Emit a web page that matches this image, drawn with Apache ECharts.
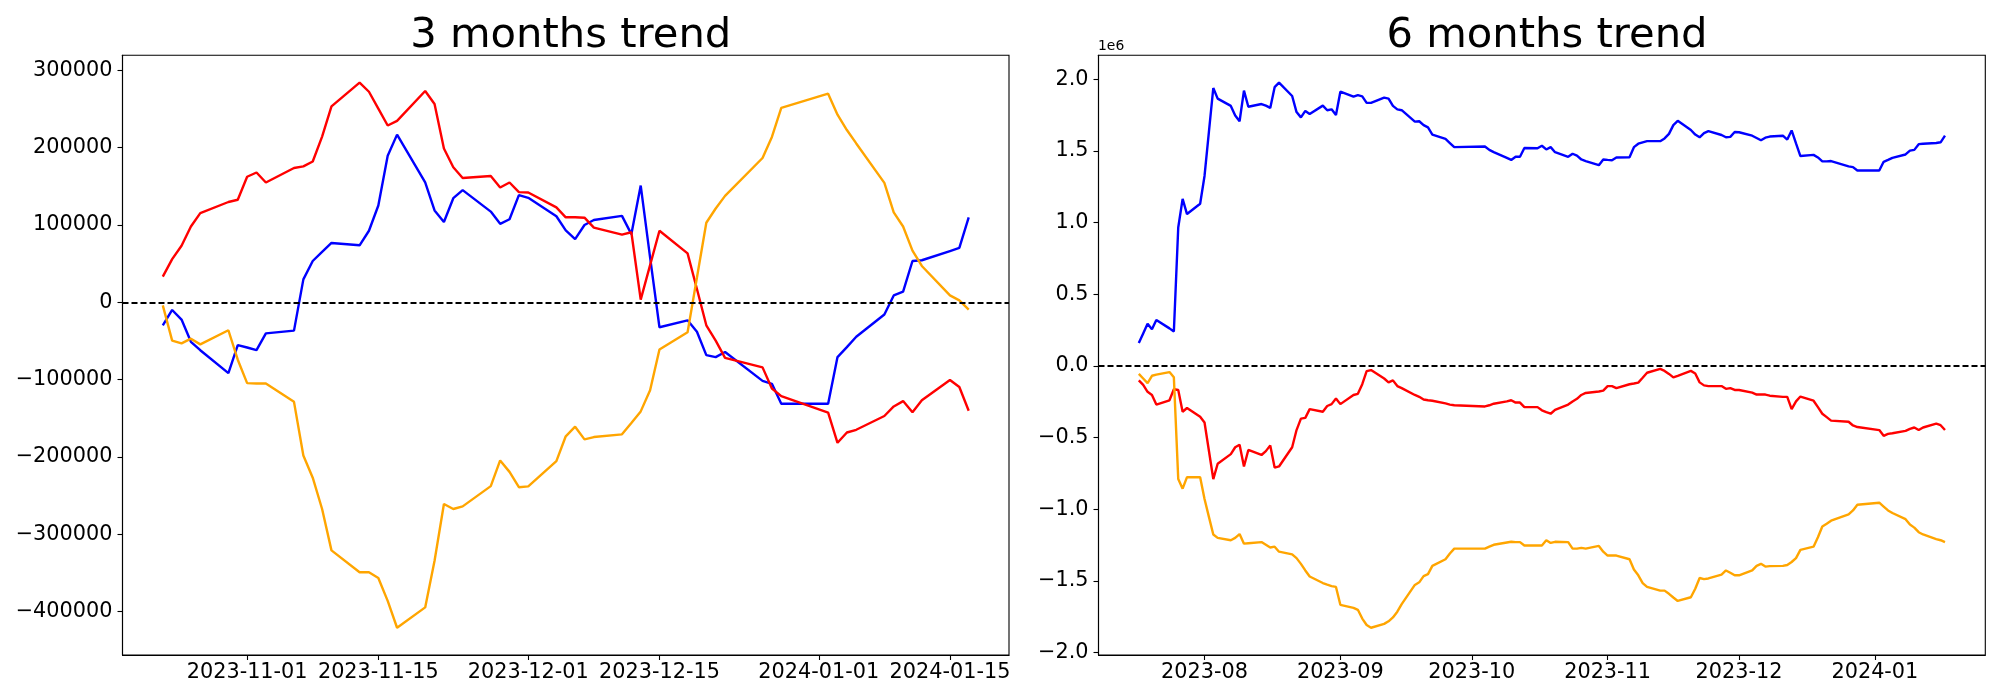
<!DOCTYPE html>
<html>
<head>
<meta charset="utf-8">
<script src="https://cdn.jsdelivr.net/npm/echarts@6/dist/echarts.min.js"></script>
<style>
html,body{margin:0;padding:0;background:#fff;}
#chart{width:2000px;height:700px;}
</style>
</head>
<body>
<div id="chart"></div>
<script>
// ---------- 3 months panel ----------
const dates3 = [
  '2023-10-23','2023-10-24','2023-10-25','2023-10-26','2023-10-27','2023-10-30','2023-10-31',
  '2023-11-01','2023-11-02','2023-11-03','2023-11-06','2023-11-07','2023-11-08','2023-11-09','2023-11-10',
  '2023-11-13','2023-11-14','2023-11-15','2023-11-16','2023-11-17','2023-11-20','2023-11-21','2023-11-22',
  '2023-11-23','2023-11-24','2023-11-27','2023-11-28','2023-11-29','2023-11-30',
  '2023-12-01','2023-12-04','2023-12-05','2023-12-06','2023-12-07','2023-12-08','2023-12-11','2023-12-12',
  '2023-12-13','2023-12-14','2023-12-15','2023-12-18','2023-12-19','2023-12-20','2023-12-21','2023-12-22',
  '2023-12-26','2023-12-27','2023-12-28',
  '2024-01-02','2024-01-03','2024-01-04','2024-01-05','2024-01-08','2024-01-09','2024-01-10','2024-01-11',
  '2024-01-12','2024-01-15','2024-01-16','2024-01-17'
];
const blue3 = [
  -29700,-9900,-22300,-51000,-61900,-91600,-55400,
  -58400,-61900,-40100,-36600,29700,53400,65300,76700,
  73700,92500,125200,189500,216800,155000,118800,103900,
  134600,145000,117300,101500,107400,138600,
  135100,111300,93000,81700,100000,106400,111800,88100,
  150900,58000,-32200,-23300,-38100,-68300,-70800,-64300,
  -101500,-105400,-131100,
  -131100,-70800,-57900,-44500,-15800,8900,13900,53400,
  54400,66300,70300,109900
];
const red3 = [
  33200,55900,73200,98000,115300,129700,132600,
  162300,167800,154900,173700,175700,182100,214300,253400,
  284100,272200,250400,228600,234600,273200,256400,198900,
  174700,160800,163300,148500,154900,142500,
  142000,122700,109900,109900,109400,96500,87600,90600,
  3500,48000,92500,63300,17300,-29700,-49500,-71800,
  -84100,-111400,-121300,
  -142500,-181600,-168300,-164800,-147000,-134600,-127700,-142000,
  -126700,-100500,-109400,-140100
];
const orange3 = [
  -4000,-49500,-53000,-47000,-54400,-36100,-74200,
  -104400,-104900,-104900,-128700,-198000,-226700,-267200,-320700,
  -348900,-348900,-356300,-386000,-420700,-394400,-334100,-260800,
  -267200,-263800,-237600,-204400,-219200,-239000,
  -238000,-205400,-173200,-160800,-177200,-174200,-170700,-155900,
  -141000,-113800,-60900,-38600,32000,102900,121300,137600,
  186600,213800,251400,
  269700,242500,222700,205400,154400,116300,98000,66800,
  47000,8900,2500,-9400
];
const xTicks3 = ['2023-11-01','2023-11-15','2023-12-01','2023-12-15','2024-01-01','2024-01-15'];
const yTicks3 = [-400000,-300000,-200000,-100000,0,100000,200000,300000];

// ---------- 6 months panel (values in units of 1e6) ----------
const dates6 = [
  '2023-07-17','2023-07-18','2023-07-19','2023-07-20','2023-07-21','2023-07-24','2023-07-25','2023-07-26','2023-07-27','2023-07-28','2023-07-31',
  '2023-08-01','2023-08-02','2023-08-03','2023-08-04','2023-08-07','2023-08-08','2023-08-09','2023-08-10','2023-08-11','2023-08-14','2023-08-15','2023-08-16','2023-08-17','2023-08-18','2023-08-21','2023-08-22','2023-08-23','2023-08-24','2023-08-25','2023-08-28','2023-08-29','2023-08-30','2023-08-31',
  '2023-09-01','2023-09-04','2023-09-05','2023-09-06','2023-09-07','2023-09-08','2023-09-11','2023-09-12','2023-09-13','2023-09-14','2023-09-15','2023-09-18','2023-09-19','2023-09-20','2023-09-21','2023-09-22','2023-09-25','2023-09-26','2023-09-27',
  '2023-10-04','2023-10-05','2023-10-06','2023-10-09','2023-10-10','2023-10-11','2023-10-12','2023-10-13','2023-10-16','2023-10-17','2023-10-18','2023-10-19','2023-10-20','2023-10-23','2023-10-24','2023-10-25','2023-10-26','2023-10-27','2023-10-30','2023-10-31',
  '2023-11-01','2023-11-02','2023-11-03','2023-11-06','2023-11-07','2023-11-08','2023-11-09','2023-11-10','2023-11-13','2023-11-14','2023-11-15','2023-11-16','2023-11-17','2023-11-20','2023-11-21','2023-11-22','2023-11-23','2023-11-24','2023-11-27','2023-11-28','2023-11-29','2023-11-30',
  '2023-12-01','2023-12-04','2023-12-05','2023-12-06','2023-12-07','2023-12-08','2023-12-11','2023-12-12','2023-12-13','2023-12-14','2023-12-15','2023-12-18','2023-12-19','2023-12-20','2023-12-21','2023-12-22','2023-12-26','2023-12-27','2023-12-28',
  '2024-01-02','2024-01-03','2024-01-04','2024-01-05','2024-01-08','2024-01-09','2024-01-10','2024-01-11','2024-01-12','2024-01-15','2024-01-16','2024-01-17'
];
const blue6 = [
  0.160,0.227,0.294,0.256,0.320,0.262,0.240,0.966,1.166,1.060,1.132,
  1.326,1.633,1.940,1.866,1.815,1.748,1.708,1.922,1.809,1.828,1.817,1.801,1.946,1.978,1.884,1.772,1.735,1.780,1.759,1.817,1.785,1.791,1.751,
  1.914,1.879,1.890,1.882,1.836,1.836,1.873,1.866,1.815,1.791,1.785,1.705,1.708,1.681,1.665,1.615,1.585,1.556,1.527,
  1.532,1.508,1.492,1.452,1.438,1.460,1.460,1.521,1.519,1.537,1.511,1.527,1.492,1.460,1.481,1.468,1.441,1.430,1.401,1.441,
  1.438,1.436,1.455,1.457,1.527,1.551,1.561,1.569,1.569,1.588,1.620,1.681,1.711,1.647,1.615,1.596,1.625,1.639,1.612,1.596,1.599,1.633,
  1.631,1.607,1.591,1.575,1.593,1.601,1.607,1.580,1.644,1.553,1.465,1.473,1.455,1.428,1.428,1.430,1.393,1.388,1.364,
  1.364,1.425,1.438,1.452,1.476,1.503,1.508,1.548,1.551,1.556,1.561,1.607
];
const red6 = [
  -0.101,-0.133,-0.181,-0.203,-0.270,-0.240,-0.163,-0.168,-0.320,-0.294,-0.355,
  -0.395,-0.592,-0.790,-0.683,-0.616,-0.568,-0.550,-0.702,-0.587,-0.622,-0.595,-0.555,-0.710,-0.702,-0.568,-0.448,-0.368,-0.363,-0.302,-0.320,-0.280,-0.267,-0.227,
  -0.267,-0.203,-0.195,-0.128,-0.037,-0.029,-0.088,-0.115,-0.101,-0.141,-0.155,-0.203,-0.216,-0.235,-0.240,-0.243,-0.262,-0.270,-0.275,
  -0.283,-0.275,-0.264,-0.248,-0.240,-0.256,-0.256,-0.288,-0.288,-0.310,-0.323,-0.334,-0.307,-0.270,-0.248,-0.230,-0.203,-0.189,-0.179,-0.173,
  -0.141,-0.141,-0.155,-0.128,-0.123,-0.117,-0.083,-0.048,-0.021,-0.035,-0.056,-0.080,-0.069,-0.035,-0.053,-0.115,-0.136,-0.141,-0.141,-0.160,-0.155,-0.168,
  -0.168,-0.187,-0.200,-0.200,-0.200,-0.208,-0.216,-0.216,-0.302,-0.248,-0.214,-0.243,-0.288,-0.334,-0.358,-0.382,-0.390,-0.416,-0.427,
  -0.448,-0.488,-0.475,-0.470,-0.454,-0.440,-0.430,-0.448,-0.430,-0.403,-0.414,-0.448
];
const orange6 = [
  -0.056,-0.088,-0.120,-0.069,-0.061,-0.043,-0.080,-0.790,-0.857,-0.777,-0.777,
  -0.929,-1.054,-1.177,-1.201,-1.217,-1.201,-1.174,-1.241,-1.238,-1.230,-1.249,-1.268,-1.262,-1.297,-1.316,-1.342,-1.382,-1.428,-1.470,-1.516,-1.527,-1.537,-1.543,
  -1.668,-1.689,-1.703,-1.764,-1.809,-1.828,-1.801,-1.783,-1.756,-1.716,-1.663,-1.529,-1.511,-1.468,-1.454,-1.396,-1.350,-1.310,-1.276,
  -1.276,-1.262,-1.249,-1.233,-1.228,-1.230,-1.230,-1.254,-1.254,-1.254,-1.217,-1.236,-1.228,-1.230,-1.276,-1.276,-1.270,-1.276,-1.257,-1.297,
  -1.324,-1.324,-1.324,-1.350,-1.422,-1.462,-1.516,-1.543,-1.569,-1.569,-1.591,-1.617,-1.641,-1.615,-1.556,-1.481,-1.489,-1.484,-1.457,-1.428,-1.444,-1.462,
  -1.462,-1.428,-1.396,-1.382,-1.401,-1.398,-1.396,-1.390,-1.369,-1.342,-1.284,-1.262,-1.196,-1.121,-1.102,-1.081,-1.036,-1.009,-0.969,
  -0.955,-0.982,-1.009,-1.027,-1.070,-1.108,-1.129,-1.161,-1.177,-1.209,-1.217,-1.230
];
const xTicks6 = ['2023-08-01','2023-09-01','2023-10-01','2023-11-01','2023-12-01','2024-01-01'];
const yTicks6 = [-2.0,-1.5,-1.0,-0.5,0.0,0.5,1.0,1.5,2.0];

const titles = ['3 months trend', '6 months trend'];
const offsetLabel = '1e6';

// ---------- helpers ----------
function ts(s){ const p = s.split('-').map(Number); return Date.UTC(p[0], p[1]-1, p[2]); }
function padRange(lo, hi){ const s = hi - lo; return [lo - 0.05*s, hi + 0.05*s]; }
function pairs(dates, vals){ return dates.map((d,i)=>[ts(d), vals[i]]); }
const MINUS = '\u2212';
const FONT = 'DejaVu Sans';

const xr3 = padRange(ts(dates3[0]), ts(dates3[dates3.length-1]));
const xr6 = padRange(ts(dates6[0]), ts(dates6[dates6.length-1]));
const all3 = blue3.concat(red3, orange3);
const all6 = blue6.concat(red6, orange6);
const yr3 = padRange(Math.min.apply(null, all3), Math.max.apply(null, all3));
const yr6 = padRange(Math.min.apply(null, all6), Math.max.apply(null, all6));

function isoDay(v){ return new Date(v).toISOString().slice(0,10); }
function isoMonth(v){ return new Date(v).toISOString().slice(0,7); }

function xAxisCfg(gi, range, ticks, fmt){
  const vals = ticks.map(ts);
  return {
    type:'value', gridIndex:gi, min:range[0], max:range[1], scale:true,
    axisLine:{show:true, onZero:false, lineStyle:{color:'#000', width:1.1}},
    splitLine:{show:false},
    axisTick:{show:true, customValues:vals, length:5, lineStyle:{color:'#000', width:1.1}},
    axisLabel:{customValues:vals, formatter:fmt, color:'#000', fontSize:20.8, fontFamily:FONT, margin:7, hideOverlap:false}
  };
}
function yAxisCfg(gi, range, ticks, fmt){
  return {
    type:'value', gridIndex:gi, min:range[0], max:range[1], scale:true,
    axisLine:{show:true, onZero:false, lineStyle:{color:'#000', width:1.1}},
    splitLine:{show:false},
    axisTick:{show:true, customValues:ticks, length:5, lineStyle:{color:'#000', width:1.1}},
    axisLabel:{customValues:ticks, formatter:fmt, color:'#000', fontSize:20.8, fontFamily:FONT, margin:10, hideOverlap:false}
  };
}
function lineSeries(xi, data, color){
  return {
    type:'line', xAxisIndex:xi, yAxisIndex:xi, data:data, showSymbol:false, symbol:'none',
    lineStyle:{color:color, width:2.4}, itemStyle:{color:color}, animation:false, silent:true
  };
}
function zeroLine(xi){
  return {
    type:'line', xAxisIndex:xi, yAxisIndex:xi, data:[], animation:false, silent:true,
    markLine:{symbol:['none','none'], silent:true, animation:false, label:{show:false},
      lineStyle:{color:'#000', type:[6,3], width:1.8}, data:[{yAxis:0}]}
  };
}

const chart = echarts.init(document.getElementById('chart'), null, {renderer:'canvas'});
chart.setOption({
  animation:false,
  backgroundColor:'#fff',
  title:[
    {text:titles[0], left:565.7, top:10, textAlign:'center',
     textStyle:{fontFamily:FONT, fontSize:41.7, fontWeight:'normal', color:'#000'}},
    {text:titles[1], left:1542, top:10, textAlign:'center',
     textStyle:{fontFamily:FONT, fontSize:41.7, fontWeight:'normal', color:'#000'}}
  ],
  grid:[
    {left:122.5, right:991, top:55.3, bottom:45, show:true, borderColor:'#000', borderWidth:1.1, backgroundColor:'transparent'},
    {left:1098.5, right:14.7, top:55.3, bottom:45, show:true, borderColor:'#000', borderWidth:1.1, backgroundColor:'transparent'}
  ],
  xAxis:[
    xAxisCfg(0, xr3, xTicks3, v=>isoDay(v)),
    xAxisCfg(1, xr6, xTicks6, v=>isoMonth(v))
  ],
  yAxis:[
    yAxisCfg(0, yr3, yTicks3, v=>String(Math.round(v)).replace('-', MINUS)),
    yAxisCfg(1, yr6, yTicks6, v=>(Math.abs(v)<1e-9?0:v).toFixed(1).replace('-', MINUS))
  ],
  graphic:[
    {type:'text', left:1098, top:39.5, silent:true,
     style:{text:offsetLabel, fontFamily:FONT, fontSize:13.9, fill:'#000'}}
  ],
  series:[
    lineSeries(0, pairs(dates3, blue3), '#0000ff'),
    lineSeries(0, pairs(dates3, red3), '#ff0000'),
    lineSeries(0, pairs(dates3, orange3), '#ffa500'),
    zeroLine(0),
    lineSeries(1, pairs(dates6, blue6), '#0000ff'),
    lineSeries(1, pairs(dates6, red6), '#ff0000'),
    lineSeries(1, pairs(dates6, orange6), '#ffa500'),
    zeroLine(1)
  ]
});
</script>
</body>
</html>
